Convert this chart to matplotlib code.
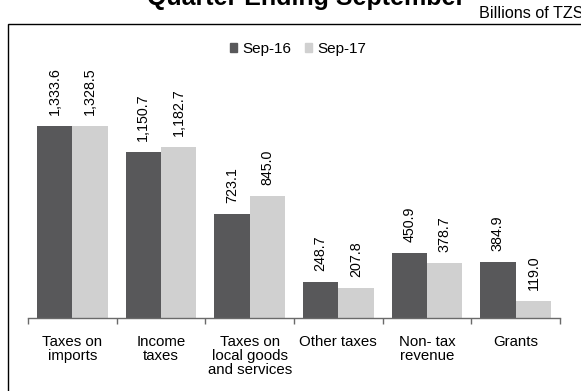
import matplotlib
matplotlib.use("Agg")
import matplotlib.pyplot as plt
from matplotlib.patches import Rectangle
import numpy as np

plt.rcParams['font.family'] = ['Liberation Sans', 'DejaVu Sans']

# Revenue by source, billions of TZS
categories = ["Taxes on\nimports", "Income\ntaxes", "Taxes on\nlocal goods\nand services",
              "Other taxes", "Non- tax\nrevenue", "Grants"]
sep16 = [1333.6, 1150.7, 723.1, 248.7, 450.9, 384.9]
sep17 = [1328.5, 1182.7, 845.0, 207.8, 378.7, 119.0]
series_names = ["Sep-16", "Sep-17"]
title = "Quarter Ending September"
unit_note = "Billions of TZS"

dark = "#58585a"
light = "#d0d0d0"

W, H = 581, 391
fig = plt.figure(figsize=(W / 100, H / 100), dpi=100)

def fx(px):
    return px / W

def fy(py):
    return 1 - py / H

ax = fig.add_axes([fx(28), fy(318), fx(560) - fx(28), fy(44) - fy(318)])

x = np.arange(len(categories))
bw = 0.4
b1 = ax.bar(x - bw / 2, sep16, bw, color=dark, label=series_names[0])
b2 = ax.bar(x + bw / 2, sep17, bw, color=light, label=series_names[1])

for bars, vals in ((b1, sep16), (b2, sep17)):
    for rect, v in zip(bars, vals):
        ax.annotate(f"{v:,.1f}", (rect.get_x() + rect.get_width() / 2, v),
                    xytext=(0, 8), textcoords="offset points",
                    rotation=90, ha="center", va="bottom", fontsize=10.3,
                    color="black")

ax.set_xlim(-0.5, len(categories) - 0.5)
ax.set_ylim(0, 1900)
for s in ("top", "right", "left"):
    ax.spines[s].set_visible(False)
ax.spines["bottom"].set_color("#6a6a6a")
ax.spines["bottom"].set_linewidth(1.0)
ax.set_yticks([])

ax.set_xticks(x)
ax.set_xticklabels(categories, fontsize=10.8, linespacing=1.02)
ax.tick_params(axis="x", which="major", length=0, pad=12)
ax.set_xticks(np.arange(len(categories) + 1) - 0.5, minor=True)
ax.tick_params(axis="x", which="minor", length=4, width=1.0, color="#6a6a6a",
               direction="out")

handles = [Rectangle((0, 0), 1, 1, color=dark), Rectangle((0, 0), 1, 1, color=light)]
fig.legend(handles, series_names, loc="center", bbox_to_anchor=(fx(298), fy(49)),
           ncol=2, frameon=False, fontsize=11, handlelength=0.45, handleheight=0.45,
           handletextpad=0.35, columnspacing=0.9, borderaxespad=0, borderpad=0)

fig.text(fx(306), fy(4.5), title, ha="center", va="baseline", fontsize=18,
         fontweight="bold")
fig.text(fx(479), fy(18), unit_note, ha="left", va="baseline", fontsize=11.6)

# chart area border
fig.add_artist(Rectangle((fx(8), fy(H + 10)), fx(W + 10) - fx(8), fy(24) - fy(H + 10),
                         transform=fig.transFigure, fill=False, edgecolor="black",
                         linewidth=1.0, clip_on=False))

fig.savefig("out.png", dpi=100)
